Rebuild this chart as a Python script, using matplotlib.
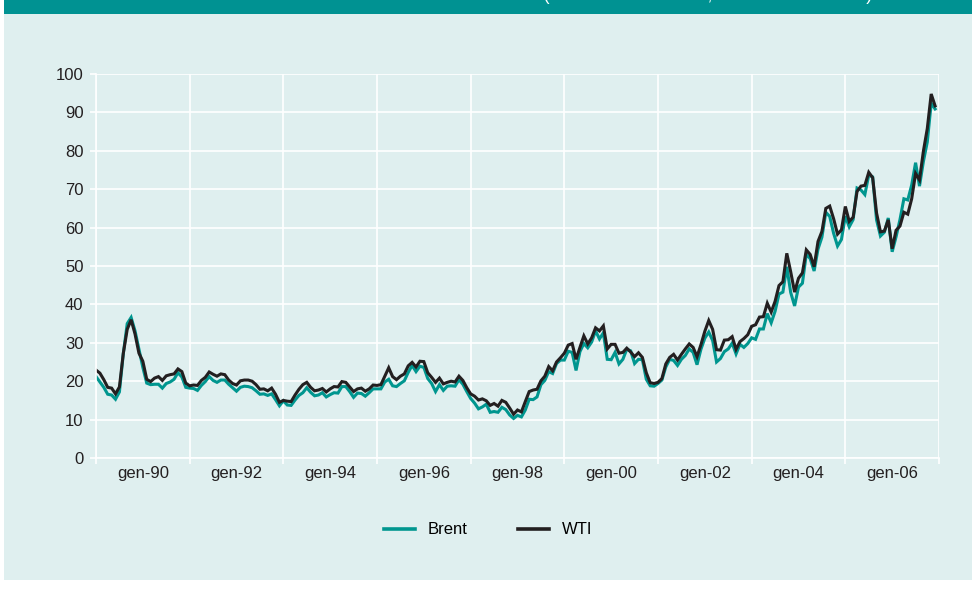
import numpy as np
import matplotlib.pyplot as plt
from matplotlib.patches import Rectangle
from matplotlib.ticker import FixedLocator, NullFormatter

plt.rcParams['font.family'] = ['Liberation Sans', 'DejaVu Sans']

# monthly averages, USD per barrel, Jan 1990 - Dec 2007
brent = [
    21.2, 19.8, 18.4, 16.6, 16.4, 15.3, 17.2, 27.2, 35.0, 36.6, 33.1, 28.3,  # 1990
    23.6, 19.5, 19.1, 19.2, 19.2, 18.2, 19.4, 19.8, 20.5, 22.2, 21.1, 18.4,  # 1991
    18.2, 18.1, 17.6, 18.9, 19.9, 21.2, 20.2, 19.7, 20.3, 20.3, 19.2, 18.3,  # 1992
    17.4, 18.4, 18.7, 18.6, 18.3, 17.5, 16.6, 16.7, 16.3, 16.7, 15.2, 13.6,  # 1993
    14.9, 13.8, 13.7, 15.1, 16.3, 17.0, 18.3, 17.1, 16.2, 16.4, 17.0, 15.9,  # 1994
    16.5, 17.0, 16.9, 18.6, 18.6, 17.3, 15.8, 16.9, 16.8, 16.1, 17.0, 18.0,  # 1995
    18.0, 18.0, 19.8, 20.5, 18.8, 18.6, 19.4, 20.1, 22.3, 24.1, 22.5, 23.9,  # 1996
    23.6, 20.7, 19.4, 17.3, 19.1, 17.6, 18.7, 18.8, 18.7, 20.4, 19.2, 17.3,  # 1997
    15.5, 14.3, 12.8, 13.3, 14.0, 11.9, 12.1, 11.9, 13.2, 12.6, 11.2, 10.3,  # 1998
    11.1, 10.7, 12.5, 15.3, 15.2, 15.9, 19.1, 20.2, 22.5, 22.0, 24.6, 25.5,  # 1999
    25.5, 27.8, 27.5, 22.8, 27.7, 29.8, 28.7, 30.2, 33.1, 31.0, 32.6, 25.7,  # 2000
    25.6, 27.5, 24.5, 25.7, 28.3, 27.9, 24.6, 25.7, 25.6, 20.5, 18.8, 18.7,  # 2001
    19.4, 20.3, 23.7, 25.7, 25.4, 24.1, 25.7, 26.7, 28.4, 27.5, 24.3, 28.3,  # 2002
    31.2, 32.8, 30.6, 25.0, 25.9, 27.7, 28.4, 29.9, 27.1, 29.6, 28.8, 29.8,  # 2003
    31.3, 30.9, 33.6, 33.6, 37.6, 35.2, 38.2, 42.7, 43.2, 49.8, 43.1, 39.6,  # 2004
    44.5, 45.5, 53.1, 51.9, 48.7, 54.4, 57.5, 64.0, 62.9, 58.5, 55.2, 56.9,  # 2005
    63.0, 60.2, 62.1, 70.3, 69.8, 68.6, 73.7, 73.2, 62.0, 57.8, 58.8, 62.5,  # 2006
    53.7, 57.6, 62.1, 67.5, 67.2, 71.1, 76.9, 70.8, 77.2, 82.3, 92.4, 90.9,  # 2007
]
wti = [
    22.9, 22.1, 20.4, 18.4, 18.2, 16.7, 18.5, 27.3, 33.5, 36.0, 32.3, 27.3,  # 1990
    25.2, 20.5, 19.9, 20.8, 21.2, 20.2, 21.4, 21.7, 21.9, 23.2, 22.5, 19.5,  # 1991
    18.8, 19.0, 18.9, 20.2, 21.0, 22.4, 21.8, 21.3, 21.9, 21.7, 20.3, 19.4,  # 1992
    19.0, 20.1, 20.3, 20.3, 20.0, 19.1, 17.9, 18.0, 17.5, 18.2, 16.6, 14.5,  # 1993
    15.0, 14.8, 14.7, 16.4, 17.9, 19.1, 19.7, 18.4, 17.5, 17.7, 18.1, 17.2,  # 1994
    18.0, 18.6, 18.5, 19.9, 19.7, 18.5, 17.3, 18.0, 18.2, 17.4, 18.0, 19.0,  # 1995
    18.9, 19.1, 21.3, 23.5, 21.2, 20.4, 21.3, 21.9, 24.0, 24.9, 23.7, 25.2,  # 1996
    25.1, 22.2, 21.0, 19.7, 20.8, 19.3, 19.7, 20.0, 19.8, 21.3, 20.2, 18.3,  # 1997
    16.7, 16.1, 15.1, 15.4, 14.9, 13.7, 14.2, 13.5, 15.0, 14.5, 13.0, 11.4,  # 1998
    12.5, 12.0, 14.7, 17.3, 17.7, 17.9, 20.1, 21.3, 23.8, 22.7, 25.0, 26.1,  # 1999
    27.3, 29.4, 29.8, 25.7, 28.8, 31.8, 29.7, 31.3, 33.9, 33.1, 34.4, 28.4,  # 2000
    29.6, 29.6, 27.3, 27.5, 28.6, 27.6, 26.4, 27.4, 26.2, 22.2, 19.6, 19.4,  # 2001
    19.7, 20.7, 24.5, 26.2, 27.0, 25.5, 27.0, 28.4, 29.7, 28.8, 26.4, 29.5,  # 2002
    33.0, 35.8, 33.5, 28.2, 28.1, 30.7, 30.8, 31.6, 28.3, 30.3, 31.1, 32.1,  # 2003
    34.3, 34.7, 36.7, 36.8, 40.3, 38.0, 40.8, 44.9, 45.9, 53.3, 48.5, 43.2,  # 2004
    46.8, 48.2, 54.2, 53.0, 49.8, 56.4, 59.0, 65.0, 65.6, 62.3, 58.3, 59.4,  # 2005
    65.5, 61.6, 62.7, 69.4, 70.8, 71.0, 74.4, 73.0, 63.8, 58.9, 59.1, 62.0,  # 2006
    54.5, 59.3, 60.4, 64.0, 63.5, 67.5, 74.1, 72.4, 79.9, 85.8, 94.8, 91.7,  # 2007
]
years = list(range(90, 108))
tick_labels = ['gen-%02d' % (y % 100) for y in years[::2]]

BG = '#dfefef'
HEAD = '#009292'
TEAL = '#00968f'
DARK = '#231f20'

fig = plt.figure(figsize=(9.72, 5.9), dpi=100)
fig.patch.set_facecolor('white')
fig.patches.append(Rectangle((4 / 972, 10 / 590), 1, 566 / 590, transform=fig.transFigure,
                             facecolor=BG, edgecolor='none', zorder=-2))
fig.patches.append(Rectangle((4 / 972, 1 - 14 / 590), 1, 14 / 590, transform=fig.transFigure,
                             facecolor=HEAD, edgecolor='none', zorder=-1))
# title sits above the crop, only the descenders of ( , ) show
fig.text(872 / 972, 1.0, 'Andamento del Brent e del WTI (dollari USA al barile, valori medi mensili)',
         color='white', fontsize=13, ha='right', va='baseline')

ax = fig.add_axes([96 / 972, 1 - 458 / 590, 843 / 972, 384 / 590])
ax.set_facecolor(BG)

x = np.arange(len(brent))
ax.plot(x, brent, color=TEAL, lw=2.2, label='Brent', solid_joinstyle='miter')
ax.plot(x, wti, color=DARK, lw=2.2, label='WTI', solid_joinstyle='miter')

ax.set_xlim(0, 216)
ax.set_ylim(0, 100)
ax.set_yticks(range(0, 101, 10))
ax.xaxis.set_major_locator(FixedLocator(range(0, 217, 24)))
ax.xaxis.set_major_formatter(NullFormatter())
ax.xaxis.set_minor_locator(FixedLocator(range(12, 217, 24)))
ax.xaxis.set_minor_formatter(plt.FixedFormatter(tick_labels))

ax.grid(True, which='major', color='white', lw=1.2)
ax.set_axisbelow(True)
for s in ['top', 'right']:
    ax.spines[s].set_visible(False)
for s in ['left', 'bottom']:
    ax.spines[s].set_color('white')
    ax.spines[s].set_linewidth(1.2)

ax.tick_params(axis='y', colors='white', length=4, width=1.2, labelcolor='#231f20',
               labelsize=12, pad=5)
ax.tick_params(axis='x', which='major', colors='white', length=4, width=1.2)
ax.tick_params(axis='x', which='minor', length=0, labelcolor='#231f20', labelsize=12, pad=6)

fig.legend(loc='center', bbox_to_anchor=(488 / 972, 1 - 530 / 590), ncol=2, frameon=False,
           fontsize=12, handlelength=1.9, handletextpad=0.75, columnspacing=3.0)
for line in fig.legends[0].get_lines():
    line.set_linewidth(2.6)

fig.savefig('out.png', dpi=100, facecolor=fig.get_facecolor())
